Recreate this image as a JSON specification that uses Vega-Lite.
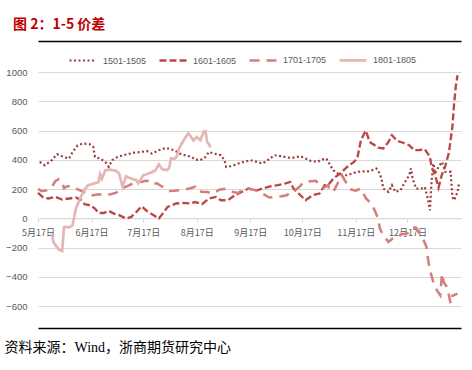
{
  "$schema": "https://vega.github.io/schema/vega-lite/v6.json",
  "width": 423,
  "height": 234,
  "autosize": {"type": "none"},
  "padding": {"left": 38, "top": 72, "right": 11, "bottom": 64},
  "background": "white",
  "title": {"text": "图 2：1-5 价差", "anchor": "start", "frame": "group", "orient": "top", "color": "#C00000", "font": "Noto Sans CJK SC", "fontSize": 14, "fontWeight": "bold", "dx": -25, "offset": 9},
  "config": {"view": {"stroke": null}},
  "data": {"values": [
    {"d":"2000-05-18","s":"1501-1505","v":385},{"d":"2000-05-21","s":"1501-1505","v":362},{"d":"2000-05-25","s":"1501-1505","v":397},{"d":"2000-05-28","s":"1501-1505","v":438},{"d":"2000-06-01","s":"1501-1505","v":419},{"d":"2000-06-04","s":"1501-1505","v":408},{"d":"2000-06-06","s":"1501-1505","v":453},{"d":"2000-06-09","s":"1501-1505","v":499},{"d":"2000-06-12","s":"1501-1505","v":511},{"d":"2000-06-16","s":"1501-1505","v":506},{"d":"2000-06-18","s":"1501-1505","v":488},{"d":"2000-06-19","s":"1501-1505","v":419},{"d":"2000-06-22","s":"1501-1505","v":408},{"d":"2000-06-25","s":"1501-1505","v":385},{"d":"2000-06-27","s":"1501-1505","v":351},{"d":"2000-06-29","s":"1501-1505","v":397},{"d":"2000-07-02","s":"1501-1505","v":419},{"d":"2000-07-07","s":"1501-1505","v":436},{"d":"2000-07-12","s":"1501-1505","v":449},{"d":"2000-07-16","s":"1501-1505","v":453},{"d":"2000-07-19","s":"1501-1505","v":460},{"d":"2000-07-22","s":"1501-1505","v":442},{"d":"2000-07-26","s":"1501-1505","v":465},{"d":"2000-07-30","s":"1501-1505","v":481},{"d":"2000-08-04","s":"1501-1505","v":465},{"d":"2000-08-07","s":"1501-1505","v":442},{"d":"2000-08-10","s":"1501-1505","v":431},{"d":"2000-08-14","s":"1501-1505","v":419},{"d":"2000-08-16","s":"1501-1505","v":401},{"d":"2000-08-19","s":"1501-1505","v":397},{"d":"2000-08-22","s":"1501-1505","v":419},{"d":"2000-08-24","s":"1501-1505","v":453},{"d":"2000-08-27","s":"1501-1505","v":442},{"d":"2000-08-31","s":"1501-1505","v":431},{"d":"2000-09-02","s":"1501-1505","v":397},{"d":"2000-09-03","s":"1501-1505","v":351},{"d":"2000-09-06","s":"1501-1505","v":356},{"d":"2000-09-10","s":"1501-1505","v":374},{"d":"2000-09-13","s":"1501-1505","v":385},{"d":"2000-09-17","s":"1501-1505","v":397},{"d":"2000-09-21","s":"1501-1505","v":385},{"d":"2000-09-24","s":"1501-1505","v":374},{"d":"2000-09-27","s":"1501-1505","v":397},{"d":"2000-10-01","s":"1501-1505","v":431},{"d":"2000-10-05","s":"1501-1505","v":424},{"d":"2000-10-09","s":"1501-1505","v":415},{"d":"2000-10-12","s":"1501-1505","v":415},{"d":"2000-10-16","s":"1501-1505","v":424},{"d":"2000-10-19","s":"1501-1505","v":408},{"d":"2000-10-22","s":"1501-1505","v":392},{"d":"2000-10-26","s":"1501-1505","v":385},{"d":"2000-10-28","s":"1501-1505","v":401},{"d":"2000-10-31","s":"1501-1505","v":408},{"d":"2000-11-04","s":"1501-1505","v":328},{"d":"2000-11-08","s":"1501-1505","v":294},{"d":"2000-11-12","s":"1501-1505","v":294},{"d":"2000-11-16","s":"1501-1505","v":310},{"d":"2000-11-20","s":"1501-1505","v":321},{"d":"2000-11-25","s":"1501-1505","v":321},{"d":"2000-11-29","s":"1501-1505","v":340},{"d":"2000-11-30","s":"1501-1505","v":328},{"d":"2000-12-02","s":"1501-1505","v":271},{"d":"2000-12-03","s":"1501-1505","v":203},{"d":"2000-12-06","s":"1501-1505","v":180},{"d":"2000-12-08","s":"1501-1505","v":226},{"d":"2000-12-10","s":"1501-1505","v":180},{"d":"2000-12-13","s":"1501-1505","v":192},{"d":"2000-12-15","s":"1501-1505","v":237},{"d":"2000-12-18","s":"1501-1505","v":294},{"d":"2000-12-19","s":"1501-1505","v":340},{"d":"2000-12-20","s":"1501-1505","v":271},{"d":"2000-12-22","s":"1501-1505","v":203},{"d":"2000-12-25","s":"1501-1505","v":203},{"d":"2000-12-27","s":"1501-1505","v":214},{"d":"2000-12-28","s":"1501-1505","v":169},{"d":"2000-12-29","s":"1501-1505","v":123},{"d":"2000-12-30","s":"1501-1505","v":55},{"d":"2000-12-31","s":"1501-1505","v":260},{"d":"2001-01-01","s":"1501-1505","v":374},{"d":"2001-01-02","s":"1501-1505","v":306},{"d":"2001-01-04","s":"1501-1505","v":351},{"d":"2001-01-06","s":"1501-1505","v":385},{"d":"2001-01-08","s":"1501-1505","v":317},{"d":"2001-01-11","s":"1501-1505","v":317},{"d":"2001-01-12","s":"1501-1505","v":146},{"d":"2001-01-13","s":"1501-1505","v":123},{"d":"2001-01-15","s":"1501-1505","v":180},{"d":"2001-01-16","s":"1501-1505","v":248},
    {"d":"2000-05-17","s":"1601-1605","v":173},{"d":"2000-05-20","s":"1601-1605","v":142},{"d":"2000-05-23","s":"1601-1605","v":135},{"d":"2000-05-27","s":"1601-1605","v":146},{"d":"2000-05-31","s":"1601-1605","v":128},{"d":"2000-06-04","s":"1601-1605","v":135},{"d":"2000-06-08","s":"1601-1605","v":142},{"d":"2000-06-11","s":"1601-1605","v":123},{"d":"2000-06-13","s":"1601-1605","v":96},{"d":"2000-06-16","s":"1601-1605","v":89},{"d":"2000-06-19","s":"1601-1605","v":66},{"d":"2000-06-21","s":"1601-1605","v":36},{"d":"2000-06-24","s":"1601-1605","v":36},{"d":"2000-06-27","s":"1601-1605","v":50},{"d":"2000-06-30","s":"1601-1605","v":32},{"d":"2000-07-03","s":"1601-1605","v":21},{"d":"2000-07-07","s":"1601-1605","v":-2},{"d":"2000-07-10","s":"1601-1605","v":9},{"d":"2000-07-13","s":"1601-1605","v":43},{"d":"2000-07-16","s":"1601-1605","v":82},{"d":"2000-07-19","s":"1601-1605","v":50},{"d":"2000-07-23","s":"1601-1605","v":21},{"d":"2000-07-26","s":"1601-1605","v":-2},{"d":"2000-07-29","s":"1601-1605","v":43},{"d":"2000-07-31","s":"1601-1605","v":77},{"d":"2000-08-05","s":"1601-1605","v":101},{"d":"2000-08-09","s":"1601-1605","v":105},{"d":"2000-08-13","s":"1601-1605","v":101},{"d":"2000-08-16","s":"1601-1605","v":111},{"d":"2000-08-20","s":"1601-1605","v":96},{"d":"2000-08-24","s":"1601-1605","v":135},{"d":"2000-08-28","s":"1601-1605","v":146},{"d":"2000-08-31","s":"1601-1605","v":123},{"d":"2000-09-04","s":"1601-1605","v":123},{"d":"2000-09-08","s":"1601-1605","v":157},{"d":"2000-09-12","s":"1601-1605","v":180},{"d":"2000-09-16","s":"1601-1605","v":203},{"d":"2000-09-21","s":"1601-1605","v":191},{"d":"2000-09-25","s":"1601-1605","v":207},{"d":"2000-09-29","s":"1601-1605","v":219},{"d":"2000-10-03","s":"1601-1605","v":226},{"d":"2000-10-07","s":"1601-1605","v":237},{"d":"2000-10-10","s":"1601-1605","v":248},{"d":"2000-10-12","s":"1601-1605","v":203},{"d":"2000-10-15","s":"1601-1605","v":169},{"d":"2000-10-19","s":"1601-1605","v":123},{"d":"2000-10-23","s":"1601-1605","v":157},{"d":"2000-10-27","s":"1601-1605","v":169},{"d":"2000-10-30","s":"1601-1605","v":226},{"d":"2000-11-01","s":"1601-1605","v":226},{"d":"2000-11-04","s":"1601-1605","v":271},{"d":"2000-11-08","s":"1601-1605","v":306},{"d":"2000-11-12","s":"1601-1605","v":351},{"d":"2000-11-16","s":"1601-1605","v":385},{"d":"2000-11-18","s":"1601-1605","v":414},{"d":"2000-11-20","s":"1601-1605","v":533},{"d":"2000-11-22","s":"1601-1605","v":581},{"d":"2000-11-23","s":"1601-1605","v":598},{"d":"2000-11-25","s":"1601-1605","v":522},{"d":"2000-11-28","s":"1601-1605","v":499},{"d":"2000-11-30","s":"1601-1605","v":483},{"d":"2000-12-03","s":"1601-1605","v":477},{"d":"2000-12-06","s":"1601-1605","v":522},{"d":"2000-12-08","s":"1601-1605","v":568},{"d":"2000-12-11","s":"1601-1605","v":530},{"d":"2000-12-14","s":"1601-1605","v":518},{"d":"2000-12-18","s":"1601-1605","v":499},{"d":"2000-12-21","s":"1601-1605","v":465},{"d":"2000-12-24","s":"1601-1605","v":467},{"d":"2000-12-27","s":"1601-1605","v":472},{"d":"2000-12-30","s":"1601-1605","v":419},{"d":"2000-12-31","s":"1601-1605","v":351},{"d":"2001-01-02","s":"1601-1605","v":294},{"d":"2001-01-04","s":"1601-1605","v":209},{"d":"2001-01-06","s":"1601-1605","v":301},{"d":"2001-01-08","s":"1601-1605","v":362},{"d":"2001-01-10","s":"1601-1605","v":448},{"d":"2001-01-12","s":"1601-1605","v":624},{"d":"2001-01-13","s":"1601-1605","v":784},{"d":"2001-01-14","s":"1601-1605","v":903},{"d":"2001-01-15","s":"1601-1605","v":978},
    {"d":"2000-05-17","s":"1701-1705","v":202},{"d":"2000-05-19","s":"1701-1705","v":185},{"d":"2000-05-22","s":"1701-1705","v":191},{"d":"2000-05-25","s":"1701-1705","v":215},{"d":"2000-05-27","s":"1701-1705","v":253},{"d":"2000-05-29","s":"1701-1705","v":267},{"d":"2000-05-31","s":"1701-1705","v":253},{"d":"2000-06-01","s":"1701-1705","v":205},{"d":"2000-06-03","s":"1701-1705","v":219},{"d":"2000-06-06","s":"1701-1705","v":219},{"d":"2000-06-09","s":"1701-1705","v":198},{"d":"2000-06-13","s":"1701-1705","v":178},{"d":"2000-06-16","s":"1701-1705","v":157},{"d":"2000-06-18","s":"1701-1705","v":157},{"d":"2000-06-21","s":"1701-1705","v":164},{"d":"2000-06-24","s":"1701-1705","v":157},{"d":"2000-06-28","s":"1701-1705","v":164},{"d":"2000-07-01","s":"1701-1705","v":173},{"d":"2000-07-05","s":"1701-1705","v":205},{"d":"2000-07-09","s":"1701-1705","v":226},{"d":"2000-07-13","s":"1701-1705","v":253},{"d":"2000-07-16","s":"1701-1705","v":248},{"d":"2000-07-18","s":"1701-1705","v":256},{"d":"2000-07-20","s":"1701-1705","v":253},{"d":"2000-07-22","s":"1701-1705","v":232},{"d":"2000-07-25","s":"1701-1705","v":239},{"d":"2000-07-27","s":"1701-1705","v":222},{"d":"2000-07-30","s":"1701-1705","v":203},{"d":"2000-08-01","s":"1701-1705","v":187},{"d":"2000-08-04","s":"1701-1705","v":188},{"d":"2000-08-07","s":"1701-1705","v":191},{"d":"2000-08-10","s":"1701-1705","v":196},{"d":"2000-08-13","s":"1701-1705","v":205},{"d":"2000-08-16","s":"1701-1705","v":215},{"d":"2000-08-17","s":"1701-1705","v":187},{"d":"2000-08-20","s":"1701-1705","v":181},{"d":"2000-08-23","s":"1701-1705","v":180},{"d":"2000-08-26","s":"1701-1705","v":169},{"d":"2000-08-28","s":"1701-1705","v":181},{"d":"2000-08-30","s":"1701-1705","v":195},{"d":"2000-09-03","s":"1701-1705","v":203},{"d":"2000-09-05","s":"1701-1705","v":191},{"d":"2000-09-07","s":"1701-1705","v":180},{"d":"2000-09-10","s":"1701-1705","v":173},{"d":"2000-09-12","s":"1701-1705","v":191},{"d":"2000-09-14","s":"1701-1705","v":203},{"d":"2000-09-16","s":"1701-1705","v":203},{"d":"2000-09-20","s":"1701-1705","v":191},{"d":"2000-09-24","s":"1701-1705","v":169},{"d":"2000-09-28","s":"1701-1705","v":142},{"d":"2000-10-02","s":"1701-1705","v":146},{"d":"2000-10-05","s":"1701-1705","v":150},{"d":"2000-10-08","s":"1701-1705","v":157},{"d":"2000-10-10","s":"1701-1705","v":174},{"d":"2000-10-13","s":"1701-1705","v":195},{"d":"2000-10-15","s":"1701-1705","v":210},{"d":"2000-10-18","s":"1701-1705","v":248},{"d":"2000-10-22","s":"1701-1705","v":253},{"d":"2000-10-25","s":"1701-1705","v":256},{"d":"2000-10-28","s":"1701-1705","v":209},{"d":"2000-10-30","s":"1701-1705","v":212},{"d":"2000-11-01","s":"1701-1705","v":226},{"d":"2000-11-02","s":"1701-1705","v":191},{"d":"2000-11-04","s":"1701-1705","v":180},{"d":"2000-11-09","s":"1701-1705","v":294},{"d":"2000-11-12","s":"1701-1705","v":232},{"d":"2000-11-14","s":"1701-1705","v":198},{"d":"2000-11-17","s":"1701-1705","v":188},{"d":"2000-11-20","s":"1701-1705","v":203},{"d":"2000-11-23","s":"1701-1705","v":135},{"d":"2000-11-26","s":"1701-1705","v":101},{"d":"2000-11-28","s":"1701-1705","v":55},{"d":"2000-11-30","s":"1701-1705","v":-2},{"d":"2000-12-01","s":"1701-1705","v":-70},{"d":"2000-12-03","s":"1701-1705","v":-116},{"d":"2000-12-06","s":"1701-1705","v":-162},{"d":"2000-12-10","s":"1701-1705","v":-123},{"d":"2000-12-14","s":"1701-1705","v":-109},{"d":"2000-12-17","s":"1701-1705","v":-103},{"d":"2000-12-20","s":"1701-1705","v":-62},{"d":"2000-12-22","s":"1701-1705","v":-65},{"d":"2000-12-24","s":"1701-1705","v":-105},{"d":"2000-12-26","s":"1701-1705","v":-139},{"d":"2000-12-28","s":"1701-1705","v":-196},{"d":"2000-12-29","s":"1701-1705","v":-287},{"d":"2000-12-30","s":"1701-1705","v":-356},{"d":"2001-01-01","s":"1701-1705","v":-438},{"d":"2001-01-03","s":"1701-1705","v":-492},{"d":"2001-01-05","s":"1701-1705","v":-527},{"d":"2001-01-06","s":"1701-1705","v":-378},{"d":"2001-01-07","s":"1701-1705","v":-438},{"d":"2001-01-09","s":"1701-1705","v":-472},{"d":"2001-01-10","s":"1701-1705","v":-527},{"d":"2001-01-11","s":"1701-1705","v":-583},{"d":"2001-01-12","s":"1701-1705","v":-530},{"d":"2001-01-15","s":"1701-1705","v":-515},
    {"d":"2000-05-25","s":"1801-1805","v":-105},{"d":"2000-05-26","s":"1801-1805","v":-164},{"d":"2000-05-28","s":"1801-1805","v":-198},{"d":"2000-05-29","s":"1801-1805","v":-214},{"d":"2000-05-31","s":"1801-1805","v":-224},{"d":"2000-06-01","s":"1801-1805","v":-62},{"d":"2000-06-02","s":"1801-1805","v":-59},{"d":"2000-06-04","s":"1801-1805","v":-62},{"d":"2000-06-06","s":"1801-1805","v":-48},{"d":"2000-06-08","s":"1801-1805","v":68},{"d":"2000-06-10","s":"1801-1805","v":123},{"d":"2000-06-11","s":"1801-1805","v":150},{"d":"2000-06-13","s":"1801-1805","v":198},{"d":"2000-06-15","s":"1801-1805","v":226},{"d":"2000-06-18","s":"1801-1805","v":236},{"d":"2000-06-21","s":"1801-1805","v":246},{"d":"2000-06-22","s":"1801-1805","v":301},{"d":"2000-06-23","s":"1801-1805","v":270},{"d":"2000-06-25","s":"1801-1805","v":328},{"d":"2000-06-28","s":"1801-1805","v":332},{"d":"2000-07-01","s":"1801-1805","v":325},{"d":"2000-07-03","s":"1801-1805","v":306},{"d":"2000-07-05","s":"1801-1805","v":214},{"d":"2000-07-07","s":"1801-1805","v":287},{"d":"2000-07-08","s":"1801-1805","v":280},{"d":"2000-07-11","s":"1801-1805","v":267},{"d":"2000-07-13","s":"1801-1805","v":260},{"d":"2000-07-14","s":"1801-1805","v":239},{"d":"2000-07-17","s":"1801-1805","v":294},{"d":"2000-07-19","s":"1801-1805","v":301},{"d":"2000-07-22","s":"1801-1805","v":315},{"d":"2000-07-24","s":"1801-1805","v":328},{"d":"2000-07-26","s":"1801-1805","v":369},{"d":"2000-07-28","s":"1801-1805","v":335},{"d":"2000-07-31","s":"1801-1805","v":330},{"d":"2000-08-01","s":"1801-1805","v":345},{"d":"2000-08-02","s":"1801-1805","v":410},{"d":"2000-08-04","s":"1801-1805","v":405},{"d":"2000-08-05","s":"1801-1805","v":415},{"d":"2000-08-07","s":"1801-1805","v":485},{"d":"2000-08-10","s":"1801-1805","v":545},{"d":"2000-08-12","s":"1801-1805","v":579},{"d":"2000-08-13","s":"1801-1805","v":568},{"d":"2000-08-15","s":"1801-1805","v":533},{"d":"2000-08-17","s":"1801-1805","v":556},{"d":"2000-08-19","s":"1801-1805","v":533},{"d":"2000-08-21","s":"1801-1805","v":592},{"d":"2000-08-22","s":"1801-1805","v":595},{"d":"2000-08-23","s":"1801-1805","v":520},{"d":"2000-08-24","s":"1801-1805","v":506},{"d":"2000-08-25","s":"1801-1805","v":485}
  ]},
  "resolve": {"axis": {"x": "independent"}},
  "layer": [
    {
      "mark": {"type": "line", "strokeCap": "butt"},
      "encoding": {
        "x": {"field": "d", "type": "temporal",
          "scale": {"type": "utc", "domain": [{"year": 2000, "month": 5, "date": 17, "utc": true}, {"year": 2001, "month": 1, "date": 17, "utc": true}]},
          "axis": {"orient": "bottom", "offset": -87.75, "title": null, "grid": false,
            "values": [{"year": 2000, "month": 5, "date": 17, "utc": true}, {"year": 2000, "month": 6, "date": 17, "utc": true}, {"year": 2000, "month": 7, "date": 17, "utc": true}, {"year": 2000, "month": 8, "date": 17, "utc": true}, {"year": 2000, "month": 9, "date": 17, "utc": true}, {"year": 2000, "month": 10, "date": 17, "utc": true}, {"year": 2000, "month": 11, "date": 17, "utc": true}, {"year": 2000, "month": 12, "date": 17, "utc": true}],
            "labelExpr": "utcFormat(datum.value, '%-m月%-d日')",
            "domainColor": "#D9D9D9", "tickColor": "#D9D9D9", "tickSize": 4,
            "labelFont": "Noto Sans CJK SC", "labelFontSize": 9, "labelColor": "#595959", "labelPadding": 6, "labelOverlap": false, "labelFlush": false}},
        "y": {"field": "v", "type": "quantitative",
          "scale": {"domain": [-600, 1000], "nice": false, "zero": false},
          "axis": {"title": null, "values": [-600, -400, -200, 0, 200, 400, 600, 800, 1000], "format": "d", "grid": true, "gridColor": "#D9D9D9", "domain": false, "ticks": false,
            "labelFont": "Liberation Sans", "labelFontSize": 9.5, "labelColor": "#595959", "labelPadding": 11}},
        "color": {"field": "s", "type": "nominal",
          "scale": {"domain": ["1501-1505", "1601-1605", "1701-1705", "1801-1805"], "range": ["#9E3A3A", "#BC4846", "#D47F7D", "#E6B6B5"]},
          "legend": {"orient": "none", "legendX": 30, "legendY": -27, "direction": "horizontal", "title": null, "symbolType": "stroke", "symbolSize": 729,
            "labelFont": "Liberation Sans", "labelFontSize": 9, "labelColor": "#595959", "columnPadding": 7, "labelOffset": 5, "padding": 0}},
        "strokeDash": {"field": "s", "type": "nominal",
          "scale": {"domain": ["1501-1505", "1601-1605", "1701-1705", "1801-1805"], "range": [[2, 2.5], [7, 3], [10, 7], [1, 0]]}},
        "strokeWidth": {"field": "s", "type": "nominal",
          "scale": {"domain": ["1501-1505", "1601-1605", "1701-1705", "1801-1805"], "range": [2.2, 2.7, 2.5, 2.3]}}
      }
    },
    {
      "mark": {"type": "point", "opacity": 0},
      "encoding": {
        "x": {"field": "d", "type": "temporal",
          "scale": {"type": "utc", "domain": [{"year": 2000, "month": 5, "date": 17, "utc": true}, {"year": 2001, "month": 1, "date": 17, "utc": true}]},
          "axis": {"orient": "bottom", "offset": 22, "labels": false, "ticks": false, "grid": false, "domainColor": "#000000", "domainWidth": 1.5,
            "title": "资料来源：Wind，浙商期货研究中心", "titleFont": "Liberation Serif, Noto Sans CJK SC", "titleFontSize": 14, "titleFontWeight": "normal", "titleColor": "#000000",
            "titleAnchor": "start", "titleAlign": "left", "titleBaseline": "middle", "titleX": -34, "titleY": 19}}
      }
    },
    {
      "mark": {"type": "point", "opacity": 0},
      "encoding": {
        "x": {"field": "d", "type": "temporal",
          "scale": {"type": "utc", "domain": [{"year": 2000, "month": 5, "date": 17, "utc": true}, {"year": 2001, "month": 1, "date": 17, "utc": true}]},
          "axis": {"orient": "top", "offset": 31, "labels": false, "ticks": false, "grid": false, "domainColor": "#000000", "domainWidth": 1.5, "title": null}}
      }
    }
  ]
}
